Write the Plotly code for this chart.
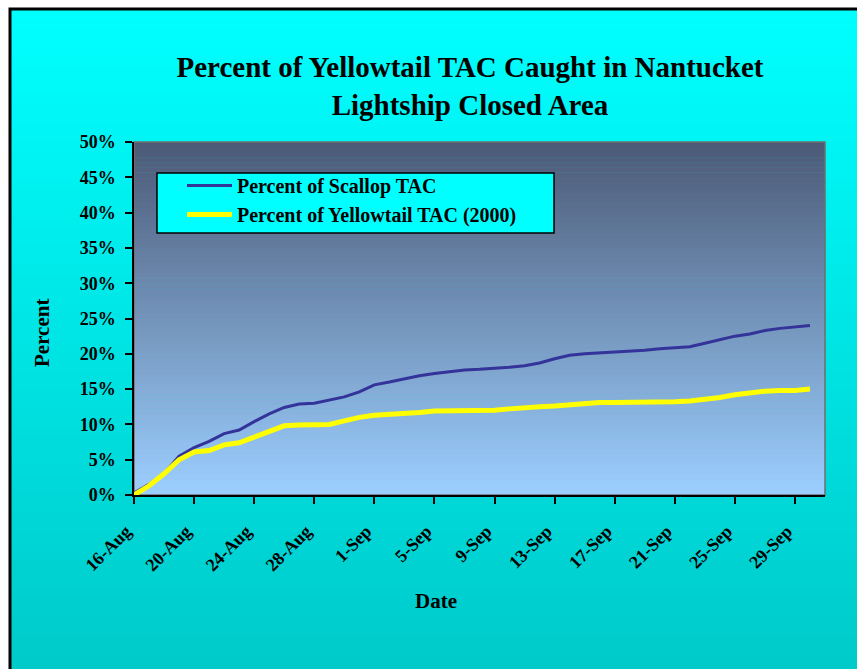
import plotly.graph_objects as go
import pandas as pd

# ---------------- data ----------------
dates = pd.date_range("2000-08-16", "2000-09-30", freq="D")
scallop_pct = [0.3, 1.5, 3.0, 5.5, 6.7, 7.6, 8.7, 9.2, 10.4, 11.5, 12.4, 12.9,
               13.0, 13.4, 13.9, 14.6, 15.6, 16.0, 16.5, 16.9, 17.2, 17.5, 17.7,
               17.8, 17.9, 18.1, 18.3, 18.7, 19.3, 19.8, 20.0, 20.1, 20.2, 20.3,
               20.5, 20.7, 20.8, 21.0, 21.5, 22.0, 22.5, 22.8, 23.3, 23.6, 23.8, 24.0]
yellowtail_pct = [0.0, 1.3, 3.0, 5.0, 6.1, 6.3, 7.1, 7.4, 8.2, 9.0, 9.8, 9.9,
                  10.0, 10.0, 10.5, 11.0, 11.3, 11.4, 11.6, 11.7, 11.9, 11.9, 12.0,
                  12.0, 12.0, 12.2, 12.4, 12.5, 12.6, 12.8, 13.0, 13.1, 13.1, 13.1,
                  13.1, 13.1, 13.2, 13.3, 13.5, 13.8, 14.2, 14.5, 14.7, 14.8, 14.8, 15.0]
series_names = ["Percent of Scallop TAC", "Percent of Yellowtail TAC (2000)"]
tick_dates = ["2000-08-16", "2000-08-20", "2000-08-24", "2000-08-28", "2000-09-01",
              "2000-09-05", "2000-09-09", "2000-09-13", "2000-09-17", "2000-09-21",
              "2000-09-25", "2000-09-29"]
tick_labels = ["16-Aug", "20-Aug", "24-Aug", "28-Aug", "1-Sep", "5-Sep", "9-Sep",
               "13-Sep", "17-Sep", "21-Sep", "25-Sep", "29-Sep"]
y_ticks = [0, 5, 10, 15, 20, 25, 30, 35, 40, 45, 50]
y_tick_labels = ["0%", "5%", "10%", "15%", "20%", "25%", "30%", "35%", "40%", "45%", "50%"]

# ---------------- layout geometry ----------------
W, H = 857, 669
L, R, T, B = 134, 825, 142, 495
PW, PH = R - L, B - T


def xp(px):
    return (px - L) / PW


def yp(py):
    return (B - py) / PH


def lerp(c1, c2, t):
    return "rgb(%d,%d,%d)" % tuple(round(a + (b - a) * t) for a, b in zip(c1, c2))


SERIF = "Liberation Serif"
shapes = []

# outer cyan gradient background (inside frame)
n = 70
top_y, bot_y = 9, H + 5
for i in range(n):
    y0 = top_y + (bot_y - top_y) * i / n
    y1 = top_y + (bot_y - top_y) * (i + 1) / n + 0.6
    shapes.append(dict(type="rect", xref="paper", yref="paper", layer="below",
                       x0=xp(10), x1=xp(W + 5), y0=yp(y0), y1=yp(y1),
                       fillcolor=lerp((0, 255, 255), (0, 202, 202), i / (n - 1)),
                       line=dict(width=0)))

# plot-area gradient
n2 = 70
for i in range(n2):
    y0 = T + PH * i / n2
    y1 = T + PH * (i + 1) / n2 + 0.6
    shapes.append(dict(type="rect", xref="paper", yref="paper", layer="below",
                       x0=0, x1=1, y0=yp(y0), y1=yp(min(y1, B)),
                       fillcolor=lerp((76, 90, 118), (155, 206, 255), i / (n2 - 1)),
                       line=dict(width=0)))

# plot-area border
shapes.append(dict(type="rect", xref="paper", yref="paper", layer="below",
                   x0=0, x1=1, y0=0, y1=1, line=dict(color="#6f6f6f", width=1.5)))

# chart frame
shapes.append(dict(type="rect", xref="paper", yref="paper", layer="above",
                   x0=xp(10), x1=xp(W + 10), y0=yp(9), y1=yp(H + 10),
                   line=dict(color="black", width=3)))

# legend box
shapes.append(dict(type="rect", xref="paper", yref="paper", layer="above",
                   x0=xp(157), x1=xp(554), y0=yp(173), y1=yp(233),
                   fillcolor="#00ffff", line=dict(color="black", width=1.5)))

fig = go.Figure()
fig.add_trace(go.Scatter(x=dates, y=scallop_pct, mode="lines", name=series_names[0],
                         line=dict(color="#333399", width=3)))
fig.add_trace(go.Scatter(x=dates, y=yellowtail_pct, mode="lines", name=series_names[1],
                         line=dict(color="#ffff00", width=5)))

fig.update_layout(
    width=W, height=H,
    margin=dict(l=L, r=W - R, t=T, b=H - B),
    paper_bgcolor="white",
    plot_bgcolor="rgba(0,0,0,0)",
    shapes=shapes,
    showlegend=True,
    legend=dict(x=xp(182), y=yp(166), xanchor="left", yanchor="top",
                bgcolor="rgba(0,0,0,0)", borderwidth=0,
                font=dict(family=SERIF, size=20, color="black", weight="bold"),
                traceorder="normal", itemwidth=45),
    title=dict(text="Percent of Yellowtail TAC Caught in Nantucket<br>Lightship Closed Area",
               font=dict(family=SERIF, size=29, color="black", weight="bold"),
               x=470 / W, xref="container", xanchor="center",
               y=1 - 77 / H, yref="container", yanchor="top"),
    xaxis=dict(type="date", range=["2000-08-16", "2000-10-01"],
               tickvals=tick_dates, ticktext=tick_labels, tickangle=-45,
               ticks="outside", ticklen=7, tickcolor="black", tickwidth=1.5,
               showline=True, linecolor="black", linewidth=1.5,
               showgrid=False, zeroline=False, ticklabelstandoff=10,
               ticklabelshift=-8,
               tickfont=dict(family=SERIF, size=18, color="black", weight="bold")),
    yaxis=dict(range=[0, 50], tickvals=y_ticks, ticktext=y_tick_labels,
               ticks="outside", ticklen=7, tickcolor="black", tickwidth=1.5,
               showline=True, linecolor="black", linewidth=1.5,
               showgrid=False, zeroline=False, ticklabelstandoff=6,
               tickfont=dict(family=SERIF, size=18, color="black", weight="bold")),
    annotations=[
        dict(text="Date", xref="paper", yref="paper", x=xp(436), y=yp(601),
             xanchor="center", yanchor="middle", showarrow=False,
             font=dict(family=SERIF, size=21, color="black", weight="bold")),
        dict(text="Percent", xref="paper", yref="paper", x=xp(42), y=yp(333),
             xanchor="center", yanchor="middle", showarrow=False, textangle=-90,
             font=dict(family=SERIF, size=21, color="black", weight="bold")),
    ],
)

fig.write_html("out.html", post_script="document.body.style.margin='0';",
               config={"displayModeBar": False})
